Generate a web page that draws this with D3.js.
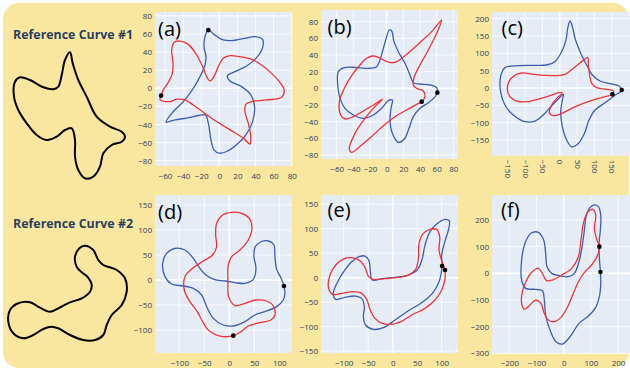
<!DOCTYPE html>
<html>
<head>
<meta charset="utf-8">
<script src="https://cdn.jsdelivr.net/npm/d3@7"></script>
<style>
  body { margin: 0; background: #fff; }
  text { font-family: "Open Sans", sans-serif; }
</style>
</head>
<body>
<svg id="chart" width="630" height="371"></svg>
<script>
// reference curves (arbitrary units, y up)
const ref1 = [[60,137.7],[62.7,126.7],[68.3,110],[76.7,93.3],[86.7,73.3],[100,63.3],[111.7,58.3],[115,53.3],[111.7,48.3],[101.7,45],[93.3,36.7],[90,23.3],[83.3,13.3],[75,11.7],[68.3,20],[65,33.3],[65,50],[61.7,61.7],[55,60],[46.7,53.3],[36.7,50],[26.7,55],[16.7,66.7],[8.3,80],[4,93.3],[5,108.3],[10,112.7],[20,110],[33.3,102.7],[43.3,100.7],[48.3,103.3],[51.7,115],[55,130]];
const ref2 = [[80,99.3],[88.3,95],[93.3,85],[98.3,80],[111.7,75],[120,66.7],[121.7,53.3],[116.7,40],[106.7,30],[101.7,20],[98.3,10],[90,5],[78.3,5],[65,10],[53.3,16.7],[46.7,18.3],[38.3,16],[28.3,10],[18.3,6.7],[8.3,11.7],[3.3,23.3],[5,35],[13.3,41.7],[25,42.7],[35,37.3],[45,33.3],[53.3,36.7],[65,42.7],[76.7,46.7],[85,53.3],[86.7,60],[82.3,68.3],[76.7,72.7],[71.7,78.3],[70,88.3],[74.3,96.7]];

// panel (a)
const redA = [[-64.3,-8.1],[-65.4,-12.9],[-54.4,-14.7],[-47.1,-12.1],[-37.9,-12.9],[-28.7,-18.4],[-8.5,-33.1],[11.8,-46],[26.5,-55.1],[33.8,-61.8],[34.6,-51.5],[32,-38.6],[28.3,-25.7],[29.4,-17.6],[35.7,-14.7],[52.2,-12.9],[68.8,-9.9],[71.7,-1.8],[66.9,6.6],[57.7,16.5],[46.7,25.7],[35.7,32],[22.8,34.9],[11.8,36],[4.4,33.1],[-1.1,23.9],[-5.9,12.9],[-10.3,8.1],[-14,12.9],[-17.6,22.1],[-25,36.8],[-34.2,48.5],[-43.4,52.2],[-50,50.7],[-52.6,42.3],[-51.1,27.6],[-51.8,16.5],[-56.3,6.6],[-61.8,-1.8]];
const blueA = [[-12.1,64.3],[-5.9,59.6],[2.6,54],[13.6,52.6],[26.5,54.8],[39.3,57],[47.8,54],[47.8,44.9],[41.2,33.8],[30.1,24.6],[17.3,18.4],[8.8,13.6],[11.8,8.1],[24.6,1.8],[34.9,-7.4],[39,-20.2],[36.8,-36.8],[29.4,-51.5],[19.1,-62.5],[8.1,-69.9],[0,-71.7],[-5.9,-68],[-9.2,-57],[-12.1,-38.6],[-15.4,-29.4],[-23.2,-30.1],[-36,-33.1],[-48.9,-34.9],[-58.8,-37.5],[-50.7,-25.7],[-39.7,-14.7],[-28.7,0],[-21.3,12.9],[-15.8,25.7],[-14.7,34.9],[-16.9,46],[-15.8,57]];
const dotsA = [[-64.3,-8.1],[-12.1,64.3]];

// panel (b)
const redB = [[66,82],[54,68],[42,56.8],[30,46],[18,36],[10,31.2],[3.2,31.2],[-4,34],[-10,37.2],[-17.2,38.8],[-24,36],[-32,28],[-42,15.2],[-50.8,0],[-56.8,-16],[-55.2,-32],[-50,-36.8],[-40,-34],[-28,-27.2],[-16,-20],[-5.2,-13.2],[-14,-22],[-26,-36],[-38,-54],[-44.8,-72.8],[-42,-76.8],[-30,-68],[-16,-56],[-4,-44.8],[10,-34],[24,-26],[36,-19.2],[42,-16],[46,-10],[44,-3.2],[36,0],[32,4],[33.2,14],[40,28],[50,46],[60,66]];
const blueB = [[60.8,-5.2],[60,0.8],[52,4],[40,5.2],[32,6.8],[28,16],[22,30],[14,44],[8.8,56],[6,68.8],[3.2,70],[0,62],[-4,48],[-8,34],[-12,26],[-22,24],[-38,25.2],[-50.8,24.8],[-58,20],[-58.8,4],[-56,-12],[-50,-24],[-40,-32],[-28,-36],[-16,-32],[-6,-24],[2,-14.8],[6.8,-14],[5.2,-24],[4,-38],[6.8,-54],[14,-64.8],[21.2,-60.8],[26.8,-48],[32,-34],[40,-24],[50,-17.2],[57.2,-11.2]];
const dotsB = [[42,-16],[60.8,-5.2]];

// panel (c)
const redC = [[80.8,88.5],[63.5,76],[39.4,56.7],[15.4,39.4],[-8.7,35.6],[-42.3,36.5],[-76,39.4],[-109.6,43.3],[-130.8,35.6],[-146.2,18.3],[-151,-2.9],[-143.3,-25],[-124,-37.5],[-95.2,-39.4],[-61.5,-31.7],[-27.9,-22.1],[-3.8,-13.5],[7.7,-14.4],[-8.7,-29.8],[-23.1,-49],[-29.8,-70.2],[-18.3,-79.8],[5.8,-73.1],[34.6,-58.7],[68.3,-44.2],[101.9,-32.7],[130.8,-25],[151.9,-18.3],[154.8,-8.7],[135.6,-3.8],[106.7,1],[92.3,13.5],[85.6,42.3],[82.7,68.3]];
const blueC = [[29.8,193.3],[23.1,172.1],[18.3,138.5],[5.8,104.8],[-13.5,76],[-37.5,66.3],[-80.8,65.4],[-119.2,64.4],[-157.7,58.7],[-170.2,32.7],[-170.2,-10.6],[-157.7,-49],[-133.7,-77.9],[-100,-97.1],[-71.2,-95.2],[-47.1,-77.9],[-23.1,-51],[-3.8,-31.7],[10.6,-18.3],[7.7,-34.6],[2.9,-68.3],[7.7,-111.5],[20.2,-150],[34.6,-169.2],[53.8,-159.6],[71.2,-130.8],[84.6,-92.3],[101.9,-63.5],[130.8,-42.3],[157.7,-22.1],[178.8,-5.8],[171.2,5.8],[145.2,12.5],[116.3,20.2],[94.2,37.5],[77.9,66.3],[58.7,104.8],[44.2,143.3],[36.5,176.9]];
const dotsC = [[151.9,-18.3],[178.8,-5.8]];

// panel (d)
const redD = [[8,-111.3],[-12,-113.3],[-28.7,-108.7],[-43.3,-98.7],[-53.3,-83.3],[-64,-63.3],[-78.7,-43.3],[-90,-20],[-88.7,6.7],[-73.3,23.3],[-52,38],[-33.3,50],[-25.3,66.7],[-27.3,90],[-25.3,113.3],[-13.3,130],[4.7,135.3],[24.7,133.3],[40,123.3],[45.3,103.3],[38,80],[21.3,60],[4.7,46.7],[-2,30],[-2.7,-3.3],[-1.3,-33.3],[11.3,-51.3],[31.3,-46.7],[53.3,-40],[74.7,-42],[88,-52],[91.3,-70],[83.3,-80],[61.3,-85.3],[38,-92],[23.3,-103.3]];
const blueD = [[109.3,-12],[102.7,5.3],[94.7,21.3],[91.3,46.7],[89.3,70],[78,78],[62.7,76],[51.3,65.3],[49.3,46.7],[53.3,23.3],[48,1.3],[31.3,-6.7],[11.3,-5.3],[-8.7,-2],[-30.7,1.3],[-46.7,10],[-58.7,23.3],[-72,43.3],[-88.7,60],[-108.7,63.3],[-125.3,53.3],[-133.3,33.3],[-128.7,6.7],[-115.3,-8],[-92,-12],[-72,-16.7],[-55.3,-30],[-45.3,-53.3],[-32,-76.7],[-12,-90],[8,-92],[31.3,-83.3],[51.3,-70],[71.3,-63.3],[94.7,-53.3],[108,-40],[111.3,-25.3]];
const dotsD = [[8,-111.3],[109.3,-12]];

// panel (e)
const redE = [[106.8,15.6],[106.8,-1.4],[100,-25.2],[86.4,-45.6],[66,-62.6],[38.8,-76.2],[17,-89.8],[-2,-95.2],[-21.1,-93.2],[-36.1,-83],[-46.3,-64.6],[-53.1,-44.2],[-63.3,-32],[-80.3,-28.6],[-104.1,-32],[-123.1,-34],[-131.3,-18.4],[-127.9,5.4],[-116.3,25.9],[-100.7,38.1],[-83.7,40.8],[-66.7,34.7],[-56.5,21.1],[-49.7,3.4],[-39.5,-3.4],[-15.6,-2],[11.6,0.7],[32,5.4],[46.9,17],[52.4,39.5],[53.7,70.1],[62.6,90.5],[76.2,98.6],[89.8,98.6],[95.9,83.7],[94.6,56.5],[100,34.7]];
const blueE = [[100.7,23.8],[100,46.3],[105.4,70.1],[113.6,97.3],[115.6,115.6],[106.8,119],[89.8,109.5],[76.2,93.9],[66,66.7],[60.5,39.5],[51,17],[32,5.4],[4.8,0.7],[-22.4,-2],[-41.5,-4.8],[-45.6,12.2],[-48.3,34.7],[-56.5,44.2],[-68.7,42.9],[-83.7,32.7],[-98.6,14.3],[-112.2,-8.2],[-121.1,-32],[-116.3,-44.2],[-97.3,-40.1],[-76.9,-37.4],[-63.3,-42.2],[-57.8,-59.2],[-59.9,-79.6],[-55.1,-96.6],[-39.5,-105.4],[-19,-102],[4.8,-86.4],[32,-67.3],[59.2,-51],[81,-32],[94.6,-8.2]];
const dotsE = [[106.8,15.6],[100.7,23.8]];

// panel (f)
const redF = [[131.3,100],[125.2,68.8],[105.5,35],[78.5,6.3],[54,-31.3],[35.6,-75],[14.7,-125],[-9.8,-165],[-35.6,-181.3],[-58.9,-172.5],[-73.6,-143.8],[-83.4,-112.5],[-103.1,-100],[-123.9,-118.8],[-144.8,-135],[-154.6,-112.5],[-152.1,-68.8],[-136.2,-25],[-115.3,6.3],[-93.3,18.8],[-78.5,0],[-62.6,-27.5],[-41.7,-25],[-7.4,-6.3],[29.4,18.8],[54,62.5],[63.8,125],[72.4,187.5],[87.1,227.5],[106.7,240],[117.8,218.8],[112.9,168.8],[121.5,127.5]];
const blueF = [[135,5],[131.3,56.3],[130.1,112.5],[135,165],[136.2,218.8],[127.6,250],[112.9,256.3],[94.5,243.8],[82.2,212.5],[76.1,162.5],[68.7,106.3],[56.4,43.8],[39.3,0],[17.2,-12.5],[-13.5,-8.8],[-44.2,0],[-61.3,25],[-66.3,75],[-73.6,125],[-93.3,153.8],[-120.2,150],[-142.3,112.5],[-154.6,50],[-154.6,-25],[-139.9,-56.3],[-105.5,-60],[-78.5,-65],[-71.2,-100],[-66.3,-156.3],[-50.3,-212.5],[-28.2,-256.3],[-4.9,-265],[23.3,-237.5],[56.4,-187.5],[90.8,-160],[117.8,-127.5],[131.3,-87.5],[136.2,-40]];
const dotsF = [[131.3,100],[135,5]];

// tick values
const ticksAB = [-80, -60, -40, -20, 0, 20, 40, 60, 80];
const ticksCx = [-150, -100, -50, 0, 50, 100, 150];
const ticksCy = [-150, -100, -50, 0, 50, 100, 150, 200];
const ticksDx = [-100, -50, 0, 50, 100];
const ticksDy = [-100, -50, 0, 50, 100, 150];
const ticksEy = [-150, -100, -50, 0, 50, 100, 150];
const ticksFx = [-200, -100, 0, 100, 200];
const ticksFy = [-300, -200, -100, 0, 100, 200];

const labels = ["(a)", "(b)", "(c)", "(d)", "(e)", "(f)"];
const refTitles = ["Reference Curve #1", "Reference Curve #2"];

const colors = { red: "#ee3338", blue: "#3d5db3", bg: "#e5ecf6", frame: "#f9e79f", text: "#2a3f5f" };

const svg = d3.select("#chart");

svg.append("rect")
    .attr("x", 3).attr("y", 3)
    .attr("width", 626).attr("height", 365)
    .attr("rx", 16)
    .attr("fill", colors.frame);

// reference curves
const refLine = (sx, sy) => d3.line().x(d => sx(d[0])).y(d => sy(d[1])).curve(d3.curveCatmullRomClosed.alpha(0.5));
const refs = [
    { pts: ref1, x: d3.scaleLinear([0, 120], [10, 130]), y: d3.scaleLinear([0, 130], [190, 60]), title: refTitles[0], ty: 38.5 },
    { pts: ref2, x: d3.scaleLinear([0, 120], [5, 125]), y: d3.scaleLinear([0, 110], [345, 235]), title: refTitles[1], ty: 228 },
];
refs.forEach(r => {
    svg.append("text")
        .attr("x", 13).attr("y", r.ty)
        .attr("font-size", 12).attr("font-weight", "bold")
        .attr("fill", colors.text)
        .attr("textLength", 120).attr("lengthAdjust", "spacingAndGlyphs")
        .text(r.title);
    svg.append("path")
        .attr("d", refLine(r.x, r.y)(r.pts))
        .attr("fill", "none")
        .attr("stroke", "#000")
        .attr("stroke-width", 2);
});

const panels = [
    { red: redA, blue: blueA, dots: dotsA, box: [155, 292, 12, 166], xd: [-71, 80.3], yd: [-85.9, 84.3], xt: ticksAB.slice(1), yt: ticksAB, lab: [158, 35.5] },
    { red: redB, blue: blueB, dots: dotsB, box: [321, 458, 10, 159], xd: [-78.8, 85.6], yd: [-84.8, 94], xt: ticksAB.slice(1), yt: ticksAB, lab: [327.5, 34] },
    { red: redC, blue: blueC, dots: dotsC, box: [492, 632, 12, 155.7], xd: [-195, 208.4], yd: [-195, 219], xt: ticksCx, yt: ticksCy, lab: [501.5, 35], rotate: true },
    { red: redD, blue: blueD, dots: dotsD, box: [155, 292, 195, 353], xd: [-148.6, 125.4], yd: [-146, 170], xt: ticksDx, yt: ticksDy, lab: [158, 219] },
    { red: redE, blue: blueE, dots: dotsE, box: [321, 458, 195, 353], xd: [-146.3, 133.3], yd: [-153.7, 168.8], xt: ticksDx, yt: ticksEy, lab: [327.5, 217] },
    { red: redF, blue: blueF, dots: dotsF, box: [492, 632, 195, 353], xd: [-263.6, 251.2], yd: [-298.5, 293.6], xt: ticksFx, yt: ticksFy, lab: [501, 216.5] },
];

panels.forEach((p, i) => {
    const [x0, x1, y0, y1] = p.box;
    const sx = d3.scaleLinear(p.xd, [x0, x1]);
    const sy = d3.scaleLinear(p.yd, [y1, y0]);
    const g = svg.append("g");

    g.append("rect")
        .attr("x", x0).attr("y", y0)
        .attr("width", x1 - x0).attr("height", y1 - y0)
        .attr("fill", colors.bg);

    // grid
    g.selectAll(".gx").data(p.xt).join("line")
        .attr("x1", d => sx(d)).attr("x2", d => sx(d))
        .attr("y1", y0).attr("y2", y1)
        .attr("stroke", "#fff").attr("stroke-width", d => d === 0 ? 1.6 : 0.8);
    g.selectAll(".gy").data(p.yt).join("line")
        .attr("y1", d => sy(d)).attr("y2", d => sy(d))
        .attr("x1", x0).attr("x2", x1)
        .attr("stroke", "#fff").attr("stroke-width", d => d === 0 ? 1.6 : 0.8);

    const line = d3.line().x(d => sx(d[0])).y(d => sy(d[1])).curve(d3.curveCatmullRomClosed.alpha(0.5));
    g.append("path").attr("d", line(p.blue))
        .attr("fill", "none").attr("stroke", colors.blue).attr("stroke-width", 1.3);
    g.append("path").attr("d", line(p.red))
        .attr("fill", "none").attr("stroke", colors.red).attr("stroke-width", 1.3);
    g.selectAll("circle").data(p.dots).join("circle")
        .attr("cx", d => sx(d[0])).attr("cy", d => sy(d[1]))
        .attr("r", 2.3).attr("fill", "#000");

    // axes
    const ax = g.append("g").attr("transform", `translate(0,${y1})`)
        .call(d3.axisBottom(sx).tickValues(p.xt).tickSize(0).tickPadding(7));
    const ay = g.append("g").attr("transform", `translate(${x0},0)`)
        .call(d3.axisLeft(sy).tickValues(p.yt).tickSize(0).tickPadding(3));
    [ax, ay].forEach(a => {
        a.select(".domain").remove();
        a.selectAll("text").attr("font-size", 8).attr("fill", colors.text)
            .attr("font-family", '"Open Sans", sans-serif');
    });
    if (p.rotate) {
        ax.selectAll("text")
            .attr("transform", "rotate(90)")
            .attr("x", 4).attr("y", 0).attr("dy", ".35em")
            .attr("text-anchor", "start");
    }

    g.append("text")
        .attr("x", p.lab[0]).attr("y", p.lab[1])
        .attr("font-size", 20)
        .attr("fill", "#000")
        .text(labels[i]);
});
</script>
</body>
</html>
